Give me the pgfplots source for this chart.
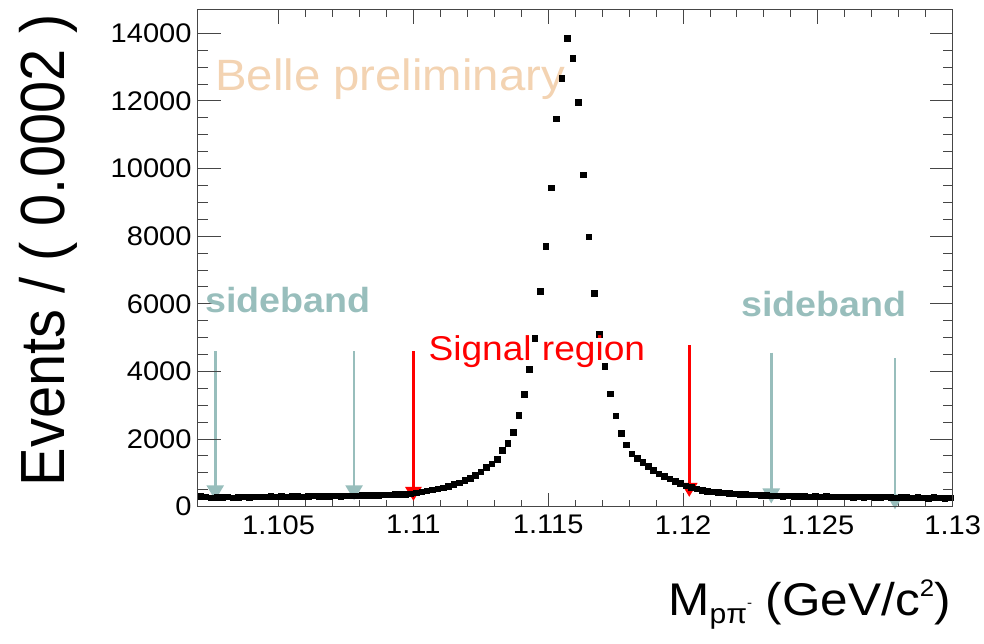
\documentclass[border=0pt]{standalone}
\usepackage{pgfplots}
\usepackage{pgfplotstable}
\pgfplotsset{compat=1.18}
\usetikzlibrary{arrows.meta}
\usepackage{fontspec}
\setmainfont{Liberation Sans}[FakeStretch=1.08]
\newfontfamily\plainfont{Liberation Sans}
\definecolor{sbcol}{RGB}{152,190,188}
\definecolor{bellecol}{RGB}{243,211,178}
\definecolor{axcol}{RGB}{70,70,70}
\pgfplotstableread{
x y
1.1021 310
1.1023 295
1.1025 270
1.1027 285
1.1029 275
1.1031 290
1.1033 265
1.1035 280
1.1037 290
1.1039 285
1.1041 295
1.1043 300
1.1045 290
1.1047 305
1.1049 300
1.1051 310
1.1053 295
1.1055 305
1.1057 315
1.1059 300
1.1061 310
1.1063 320
1.1065 305
1.1067 315
1.1069 310
1.1071 320
1.1073 315
1.1075 330
1.1077 320
1.1079 325
1.1081 340
1.1083 335
1.1085 345
1.1087 340
1.1089 355
1.1091 350
1.1093 365
1.1095 370
1.1097 375
1.1099 390
1.1101 410
1.1103 440
1.1105 470
1.1107 500
1.1109 530
1.1111 565
1.1113 610
1.1115 660
1.1117 715
1.1119 775
1.1121 850
1.1123 935
1.1125 1030
1.1127 1170
1.1129 1275
1.1131 1400
1.1133 1680
1.1135 1885
1.1137 2200
1.1139 2710
1.1141 3330
1.1143 4070
1.1145 4990
1.1147 6370
1.1149 7700
1.1151 9430
1.1153 11480
1.1155 12680
1.1157 13860
1.1159 13270
1.1161 11960
1.1163 9820
1.1165 7990
1.1167 6320
1.1169 5100
1.1171 4150
1.1173 3340
1.1175 2690
1.1177 2180
1.1179 1830
1.1181 1570
1.1183 1430
1.1185 1310
1.1187 1190
1.1189 1080
1.1191 980
1.1193 900
1.1195 830
1.1197 760
1.1199 690
1.1201 620
1.1203 570
1.1205 530
1.1207 495
1.1209 465
1.1211 445
1.1213 425
1.1215 410
1.1217 400
1.1219 385
1.1221 375
1.1223 365
1.1225 355
1.1227 350
1.1229 340
1.1231 335
1.1233 330
1.1235 320
1.1237 315
1.1239 325
1.1241 310
1.1243 305
1.1245 315
1.1247 300
1.1249 310
1.1251 295
1.1253 305
1.1255 300
1.1257 290
1.1259 300
1.1261 295
1.1263 285
1.1265 295
1.1267 280
1.1269 290
1.1271 285
1.1273 275
1.1275 290
1.1277 280
1.1279 270
1.1281 285
1.1283 275
1.1285 265
1.1287 280
1.1289 270
1.1291 260
1.1293 275
1.1295 265
1.1297 255
1.1299 265
}\datatab

\begin{document}
\begin{tikzpicture}
\useasboundingbox (-197.7bp,-136.5bp) rectangle (786.3bp,506.7bp);
\node[anchor=base west, text=bellecol, inner sep=0pt, font=\fontsize{44}{44}\selectfont] at (17.3bp,416.5bp) {Belle preliminary};
\begin{axis}[
  at={(0,0)}, anchor=south west, scale only axis,
  width=755bp, height=497bp,
  xmin=1.102, xmax=1.13, ymin=0, ymax=14700,
  xtick={1.105,1.11,1.115,1.12,1.125,1.13},
  xticklabels={1.105,1.11,1.115,1.12,1.125,1.13},
  minor x tick num=4,
  ytick=\empty,
  major tick length=14bp, minor tick length=7bp,
  axis line style={axcol, line width=1.2bp},
  tick style={axcol, line width=1bp},
  xticklabel style={font=\fontsize{27}{27}\selectfont, inner sep=0pt, anchor=north, yshift=-8.5bp},
  clip=false,
]
\addplot[only marks, mark=square*, mark size=2.8bp, black] table[x=x,y=y]{\datatab};
\draw[sbcol, line width=2.7bp, -{Triangle[width=17bp,length=15bp]}] (axis cs:1.10265,4600) -- (axis cs:1.10265,190);
\draw[sbcol, line width=2.7bp, -{Triangle[width=17bp,length=15bp]}] (axis cs:1.1078,4600) -- (axis cs:1.1078,190);
\draw[red, line width=2.7bp, -{Triangle[width=16bp,length=14bp]}] (axis cs:1.11,4600) -- (axis cs:1.11,170);
\draw[red, line width=2.7bp, -{Triangle[width=16bp,length=14bp]}] (axis cs:1.12023,4770) -- (axis cs:1.12023,290);
\draw[sbcol, line width=2.7bp, -{Triangle[width=17bp,length=15bp]}] (axis cs:1.12327,4560) -- (axis cs:1.12327,95);
\draw[sbcol, line width=2.7bp, -{Triangle[width=17bp,length=15bp]}] (axis cs:1.12786,4390) -- (axis cs:1.12786,-80);
\end{axis}
\begin{axis}[
  at={(0,0)}, anchor=south west, scale only axis,
  width=755bp, height=497bp,
  xmin=1.102, xmax=1.13, ymin=0, ymax=14700,
  xtick=\empty,
  ytick={0,2000,4000,6000,8000,10000,12000,14000},
  yticklabels={0,2000,4000,6000,8000,10000,12000,14000},
  minor y tick num=3,
  major tick length=23bp, minor tick length=10bp,
  axis line style={axcol, line width=1.2bp},
  tick style={axcol, line width=1bp},
  yticklabel style={font=\fontsize{27}{27}\selectfont, inner sep=0pt, anchor=east, xshift=-6bp},
]
\end{axis}
\node[anchor=base west, text=sbcol, inner sep=0pt, font=\fontsize{35}{35}\selectfont\bfseries] at (7.3bp,193.8bp) {sideband};
\node[anchor=base west, text=sbcol, inner sep=0pt, font=\fontsize{35}{35}\selectfont\bfseries] at (543.3bp,190.5bp) {sideband};
\node[anchor=base west, text=red, inner sep=0pt, font=\fontsize{34.5}{34.5}\selectfont] at (230.6bp,145.8bp) {Signal region};
\node[anchor=base, rotate=90, inner sep=0pt] at (-132.7bp,256.5bp) {\scalebox{1}[1.08]{\plainfont\fontsize{58}{58}\selectfont Events / ( 0.0002 )}};
\node[anchor=base east, inner sep=0pt, font=\fontsize{46}{46}\selectfont] at (753.3bp,-108.5bp) {M\raisebox{-8bp}{\fontsize{28}{28}\selectfont pπ\raisebox{16bp}{\fontsize{14}{14}\selectfont -}} (GeV/c\raisebox{19bp}{\fontsize{24}{24}\selectfont 2})};
\end{tikzpicture}
\end{document}
